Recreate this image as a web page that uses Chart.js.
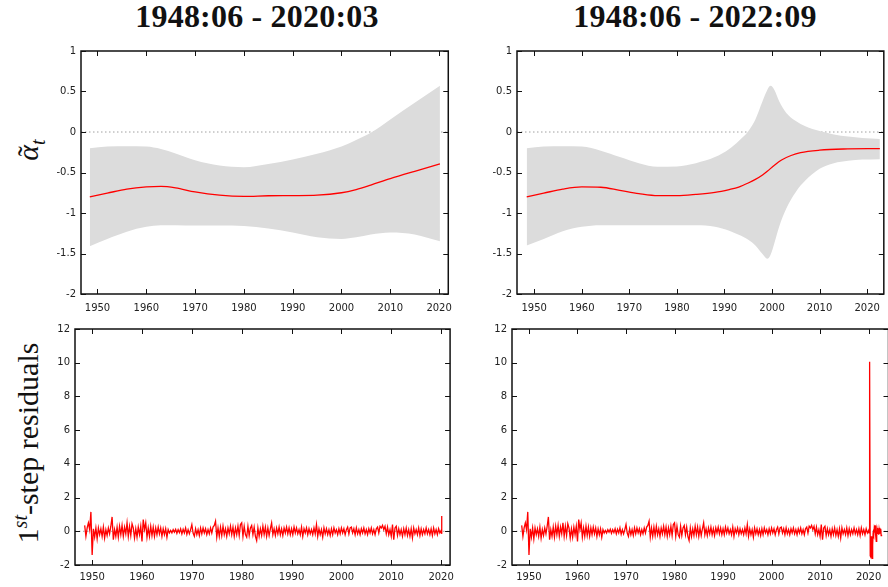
<!DOCTYPE html>
<html>
<head>
<meta charset="utf-8">
<script src="https://cdn.jsdelivr.net/npm/chart.js@4.4.1/dist/chart.umd.min.js"></script>
<style>
  body { margin: 0; width: 888px; height: 587px; background: #fff; position: relative; overflow: hidden; }
  canvas { position: absolute; }
  .ttl { position: absolute; top: 1px; font: bold 32px "Liberation Serif", serif; line-height: 31px; transform: translateX(-50%); white-space: nowrap; color: #111; letter-spacing: 0.2px; }
  .ylab { position: absolute; font: 30px "Liberation Serif", serif; line-height: 34px; white-space: nowrap; color: #111; transform: translate(-50%, -50%) rotate(-90deg); }
  .ylab sub, .ylab sup { font-size: 20px; line-height: 0; }
  .acc { position: relative; display: inline-block; }
  .acc .tl { position: absolute; left: 0; right: 0; top: 0; text-align: center; padding-left: 3px; }
</style>
</head>
<body>
<div class="ttl" style="left:257px">1948:06 - 2020:03</div>
<div class="ttl" style="left:695px">1948:06 - 2022:09</div>
<div class="ylab" style="left:28px; top:150px"><span class="acc"><i>α</i><span class="tl">˜</span></span><sub><i>t</i></sub></div>
<div class="ylab" style="left:28px; top:443px">1<sup><i>st</i></sup>-step residuals</div>

<canvas id="cTL" width="460" height="278" style="left:0; top:40px"></canvas>
<canvas id="cTR" width="428" height="278" style="left:460px; top:40px"></canvas>
<canvas id="cBL" width="460" height="269" style="left:0; top:318px"></canvas>
<canvas id="cBR" width="430" height="269" style="left:460px; top:318px"></canvas>

<script>
// tick values
const yearTicks = [1950, 1960, 1970, 1980, 1990, 2000, 2010, 2020];
const alphaTicks = [-2, -1.5, -1, -0.5, 0, 0.5, 1];
const residTicks = [-2, 0, 2, 4, 6, 8, 10, 12];

// smoothed alpha, sample ending 2020:03
const shortYears = [1948.42, 1952, 1956, 1960, 1963, 1966, 1970, 1975, 1980, 1985, 1990, 1995, 2000, 2003, 2006, 2010, 2015, 2020.17];
const shortMean  = [-0.80, -0.755, -0.705, -0.678, -0.672, -0.69, -0.74, -0.78, -0.795, -0.787, -0.785, -0.78, -0.75, -0.71, -0.655, -0.575, -0.485, -0.395];
const shortUpper = [-0.20, -0.18, -0.175, -0.18, -0.21, -0.265, -0.35, -0.415, -0.435, -0.395, -0.34, -0.27, -0.18, -0.10, -0.01, 0.155, 0.36, 0.57];
const shortLower = [-1.41, -1.32, -1.23, -1.17, -1.15, -1.15, -1.155, -1.155, -1.16, -1.19, -1.24, -1.30, -1.32, -1.30, -1.265, -1.24, -1.265, -1.35];

// smoothed alpha, sample ending 2022:09
const longYears = [1948.42, 1952, 1956, 1960, 1964, 1968, 1972, 1976, 1980, 1984, 1988, 1991, 1993, 1995, 1996.5, 1998, 1999, 1999.7, 2000.5, 2001.5, 2003, 2005, 2007, 2010, 2013, 2016, 2019, 2022.67];
const longUpper = [-0.20, -0.18, -0.175, -0.18, -0.23, -0.31, -0.385, -0.43, -0.425, -0.385, -0.31, -0.21, -0.11, 0.01, 0.155, 0.38, 0.52, 0.57, 0.52, 0.38, 0.235, 0.135, 0.07, 0.012, -0.03, -0.057, -0.073, -0.085];
const longLower = [-1.40, -1.32, -1.225, -1.17, -1.15, -1.15, -1.15, -1.15, -1.15, -1.15, -1.17, -1.22, -1.27, -1.33, -1.40, -1.505, -1.565, -1.515, -1.37, -1.17, -0.945, -0.74, -0.60, -0.455, -0.385, -0.355, -0.34, -0.335];
const longMeanYears = [1948.42, 1952, 1956, 1960, 1964, 1968, 1972, 1976, 1980, 1984, 1988, 1991, 1993, 1995, 1996.5, 1998, 1999, 2000.5, 2002, 2004, 2006, 2010, 2015, 2022.67];
const longMean = [-0.80, -0.755, -0.705, -0.678, -0.682, -0.72, -0.76, -0.785, -0.785, -0.77, -0.745, -0.71, -0.68, -0.63, -0.585, -0.53, -0.485, -0.41, -0.345, -0.29, -0.255, -0.225, -0.21, -0.205];

// one-step residuals, quarterly from 1948:Q3 to 2019:Q4
const residStart = 1948.5;
const residQuarterly = [
  0.35, -0.3,
  0.2, 0.5, 0.1, 1.15,
  -1.4, 0.15, -0.35, 0.2,
  -0.45, 0.2, -0.2, 0.15,
  -0.3, 0.25, -0.4, 0.1,
  -0.25, 0.2, -0.15, 0.3,
  0.85, -0.5, 0.1, -0.3,
  0.25, -0.35, 0.3, -0.2,
  0.35, -0.3, 0.25, -0.15,
  0.5, -0.3, 0.3, -0.25,
  0.45, 0.2, -0.4, 0.15,
  -0.35, 0.25, -0.2, 0.3,
  -0.6, 0.7, 0.1, 0.5,
  -0.35, 0.2, -0.3, 0.3,
  -0.25, 0.25, -0.3, 0.2,
  -0.2, 0.25, -0.15, 0.2,
  -0.3, 0.15, -0.2, 0.15,
  -0.35, 0.1, -0.1, 0.05,
  -0.1, 0.1, -0.05, 0.12,
  -0.12, 0.1, -0.08, 0.15,
  -0.15, 0.12, -0.1, 0.2,
  -0.18, 0.1, -0.15, 0.1,
  0.4, -0.1, -0.3, 0.15,
  -0.2, 0.1, -0.25, 0.2,
  -0.15, 0.2, -0.1, 0.15,
  -0.2, 0.1, -0.15, 0.2,
  -0.1, 0.25, 0.35, 0.6,
  -0.35, 0.2, -0.3, 0.25,
  -0.25, 0.3, -0.2, 0.15,
  -0.3, 0.2, -0.15, 0.3,
  -0.2, 0.25, -0.3, 0.2,
  -0.2, 0.3, -0.25, 0.4,
  0.5, -0.3, 0.3, -0.2,
  -0.35, 0.3, -0.25, 0.2,
  0.35, -0.2, 0.25, -0.3,
  -0.55, 0.2, -0.3, 0.15,
  -0.25, 0.3, -0.2, 0.25,
  -0.3, 0.2, -0.25, 0.15,
  0.5, -0.2, 0.15, -0.25,
  0.2, -0.15, 0.25, -0.2,
  0.15, -0.25, 0.2, -0.1,
  0.25, -0.15, 0.2, -0.2,
  0.15, -0.2, 0.25, -0.1,
  0.2, -0.15, 0.1, -0.2,
  0.25, -0.3, 0.15, -0.1,
  0.2, -0.2, 0.15, -0.15,
  0.1, -0.2, 0.2, -0.15,
  0.4, -0.3, 0.15, -0.2,
  0.1, -0.35, 0.2, -0.15,
  0.15, -0.2, 0.1, -0.25,
  0.15, -0.2, 0.2, -0.1,
  0.1, -0.2, 0.15, -0.15,
  0.2, -0.1, 0.15, -0.2,
  0.1, 0.25, -0.15, 0.2,
  0.25, -0.1, 0.15, -0.2,
  0.2, -0.15, 0.1, -0.2,
  0.15, -0.1, 0.2, -0.15,
  0.1, -0.2, 0.15, -0.1,
  0.2, -0.15, 0.1, -0.2,
  0.15, 0.25, -0.1, 0.3,
  0.2, 0.35, 0.1, 0.3,
  -0.15, 0.25, -0.2, 0.1,
  -0.3, 0.4, -0.5, 0.2,
  0.3, -0.25, 0.15, -0.2,
  0.1, -0.3, 0.15, -0.2,
  0.2, -0.25, 0.1, -0.3,
  0.15, -0.4, 0.2, -0.15,
  0.1, -0.2, 0.2, -0.25,
  0.15, -0.2, 0.1, -0.15,
  0.2, -0.15, 0.1, -0.2,
  0.15, -0.25, 0.2, -0.15,
  0.1, -0.2, 0.15, -0.1
];
// monthly residuals from 2020:01
const residTailShort = [0.05, -0.15, 0.9];
const residTailLong = [
  0.05, -0.1, 0.15, 10.05, -1.45, -1.5, -0.3, -0.6, -1.45, -1.6, -0.8, -0.2,
  0.1, -0.3, 0.2, 0.1, 0.35, 0.05, -0.25, -0.6, -0.3, 0.1, 0.2, -0.15,
  0.15, -0.2, 0.1, -0.15, 0.2, -0.1, 0.15, -0.25, -0.2
];

const RED = '#ff0000';
const BAND = '#dcdcdc';

function pts(xs, ys) { return xs.map((x, i) => ({ x: x, y: ys[i] })); }

function residPoints(tail) {
  const out = residQuarterly.map((v, i) => ({ x: residStart + i * 0.25, y: v }));
  tail.forEach((v, i) => out.push({ x: 2020 + i / 12, y: v }));
  return out;
}

function zeroLine(xMin, xMax, order) {
  return { data: [{ x: xMin, y: 0 }, { x: xMax, y: 0 }], borderColor: '#a0a0a0', borderWidth: 1,
           borderDash: [1.5, 2.5], pointRadius: 0, fill: false, order: order };
}

// border box and inward ticks on all four sides
const frameTicks = {
  id: 'frameTicks',
  afterDatasetsDraw(chart) {
    const { ctx, chartArea: a, scales: { x, y } } = chart;
    ctx.save();
    ctx.strokeStyle = '#111';
    ctx.lineWidth = 1;
    ctx.beginPath();
    x.ticks.forEach(t => {
      const px = Math.round(x.getPixelForValue(t.value)) + 0.5;
      ctx.moveTo(px, a.bottom); ctx.lineTo(px, a.bottom - 5);
      ctx.moveTo(px, a.top); ctx.lineTo(px, a.top + 5);
    });
    y.ticks.forEach(t => {
      const py = Math.round(y.getPixelForValue(t.value)) + 0.5;
      ctx.moveTo(a.left, py); ctx.lineTo(a.left + 5, py);
      ctx.moveTo(a.right, py); ctx.lineTo(a.right - 5, py);
    });
    ctx.stroke();
    ctx.lineWidth = 1.5;
    ctx.strokeRect(a.left, a.top, a.right - a.left, a.bottom - a.top);
    ctx.restore();
  }
};

function makeChart(id, p, datasets) {
  const tickFont = { family: 'DejaVu Sans', size: 10 };
  return new Chart(document.getElementById(id), {
    type: 'line',
    data: { datasets: datasets },
    options: {
      responsive: false,
      animation: false,
      layout: { autoPadding: false, padding: { left: 0, top: p.padTop, right: p.padRight, bottom: 0 } },
      plugins: { legend: { display: false }, tooltip: { enabled: false } },
      scales: {
        x: {
          type: 'linear', min: p.xMin, max: p.xMax,
          afterBuildTicks: s => { s.ticks = yearTicks.map(v => ({ value: v })); },
          afterFit: s => { s.height = p.xH; },
          grid: { display: false, drawTicks: false }, border: { display: false },
          ticks: { padding: p.xPad, maxRotation: 0, autoSkip: false, color: '#222', font: tickFont, callback: v => String(v) }
        },
        y: {
          type: 'linear', min: p.yMin, max: p.yMax,
          afterBuildTicks: s => { s.ticks = p.yTicks.map(v => ({ value: v })); },
          afterFit: s => { s.width = p.yW; },
          grid: { display: false, drawTicks: false }, border: { display: false },
          ticks: { padding: 5, color: '#222', font: tickFont, callback: v => String(v) }
        }
      }
    },
    plugins: [frameTicks]
  });
}

function alphaSets(years, lower, upper, meanYears, mean, xMin, xMax) {
  return [
    { data: pts(meanYears, mean), borderColor: RED, borderWidth: 1.3, pointRadius: 0,
      cubicInterpolationMode: 'monotone', fill: false, order: 0 },
    { data: pts(years, lower), borderColor: 'rgba(0,0,0,0)', borderWidth: 0, pointRadius: 0,
      cubicInterpolationMode: 'monotone', fill: false, order: 1 },
    { data: pts(years, upper), borderColor: 'rgba(0,0,0,0)', borderWidth: 0, pointRadius: 0,
      cubicInterpolationMode: 'monotone', fill: '-1', backgroundColor: BAND, order: 1 },
    zeroLine(xMin, xMax, 3)
  ];
}

function residSets(tail, xMin, xMax) {
  return [
    { data: residPoints(tail), borderColor: RED, borderWidth: 1.3, pointRadius: 0, tension: 0, fill: false, order: 0 },
    zeroLine(xMin, xMax, 2)
  ];
}

makeChart('cTL', { xMin: 1946.62, xMax: 2021.88, yMin: -2, yMax: 1, yTicks: alphaTicks,
                   padTop: 10, padRight: 7, yW: 81, xH: 24, xPad: 8 },
          alphaSets(shortYears, shortLower, shortUpper, shortYears, shortMean, 1946.62, 2021.88));

makeChart('cTR', { xMin: 1946.38, xMax: 2023.5, yMin: -2, yMax: 1, yTicks: alphaTicks,
                   padTop: 10, padRight: 2.5, yW: 57, xH: 24, xPad: 8 },
          alphaSets(longYears, longLower, longUpper, longMeanYears, longMean, 1946.38, 2023.5));

makeChart('cBL', { xMin: 1946.56, xMax: 2021.8, yMin: -2, yMax: 12, yTicks: residTicks,
                   padTop: 2, padRight: 7, yW: 75, xH: 22, xPad: 6 },
          residSets(residTailShort, 1946.56, 2021.8));

makeChart('cBR', { xMin: 1946.5, xMax: 2024.1, yMin: -2, yMax: 12, yTicks: residTicks,
                   padTop: 2, padRight: 1.5, yW: 52, xH: 22, xPad: 6 },
          residSets(residTailLong, 1946.5, 2024.1));
</script>
</body>
</html>
